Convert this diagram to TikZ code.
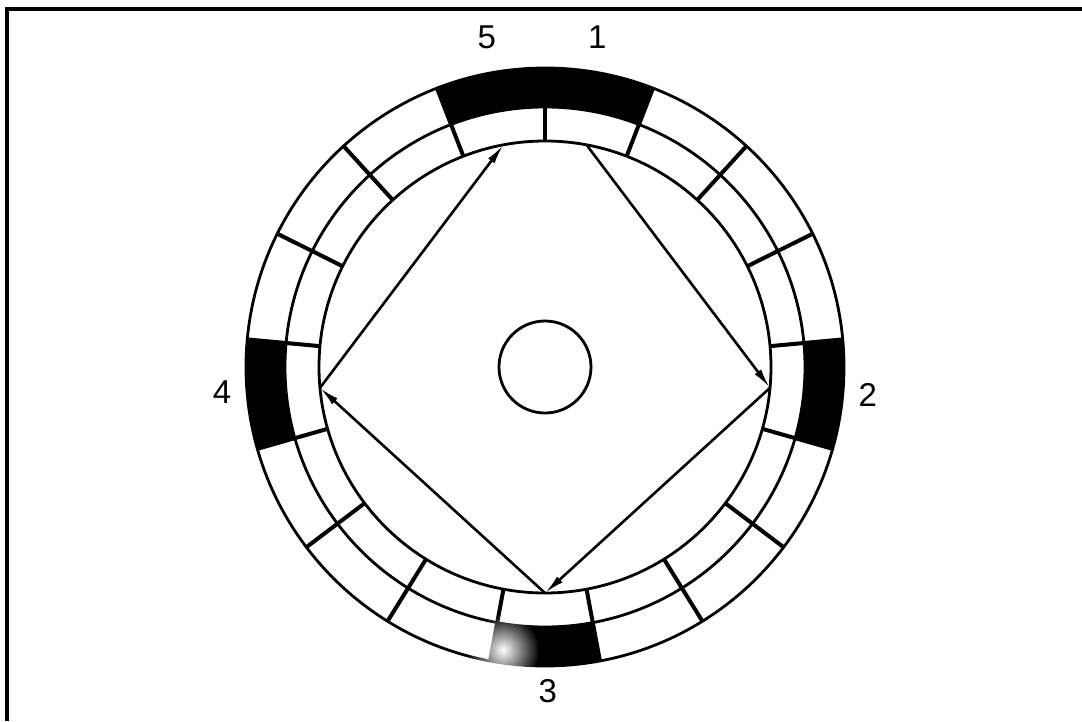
\documentclass[tikz,border=0pt]{standalone}
\usepackage{fontspec}
\setmainfont{Liberation Sans}
\usepackage{tikz}
\usetikzlibrary{arrows.meta,fadings}
\tikzfading[name=blobfade,inner color=transparent!0,outer color=transparent!100]

\begin{document}
\begin{tikzpicture}[x=1pt,y=1pt,
  ring/.style={line width=2.8pt},
  sep/.style={line width=4pt},
  lb/.style={font=\fontsize{33}{36}\selectfont},
  ar/.style={-{Latex[length=20pt,width=8pt]},line width=2.6pt}]
\useasboundingbox (-545,-354) rectangle (537,367);
\draw[line width=3.5pt] (537,358) -- (-538,358) -- (-538,-354);
\coordinate (c) at (0,0);
% marked cells of the outer ring
\foreach \m in {0,...,4}{
  \pgfmathsetmacro\aa{90-(4*\m+1)*360/17}
  \pgfmathsetmacro\ab{90-4*\m*360/17}
  \fill (\aa:299) arc[start angle=\aa,end angle=\ab,radius=299]
    -- (\ab:260) arc[start angle=\ab,end angle=\aa,radius=260] -- cycle;
}
\draw[ring] (c) circle[radius=299];
\draw[ring] (c) circle[radius=260];
\draw[ring] (c) circle[radius=226];
\draw[ring] (c) circle[radius=46];
\foreach \j in {0,...,16}
  \draw[sep] (90+\j*360/17:226) -- (90+\j*360/17:299);
% hops, every fourth cell
\foreach \m in {0,...,4}
  \coordinate (p\m) at (90-4*\m*360/17-180/17:226);
\foreach \a/\b in {p0/p1,p1/p2,p2/p3,p3/p4}
  \draw[ar] (\a) -- (\b);
\fill[white,path fading=blobfade] (-42,-283) circle (36);
\node[lb] (l1) at (81:334) {1};
\node[lb] (l2) at (-5:324) {2};
\node[lb] (l3) at (-89.5:324) {3};
\node[lb] (l4) at (184.4:324) {4};
\node[lb] (l5) at (100:335) {5};
\end{tikzpicture}
\end{document}
